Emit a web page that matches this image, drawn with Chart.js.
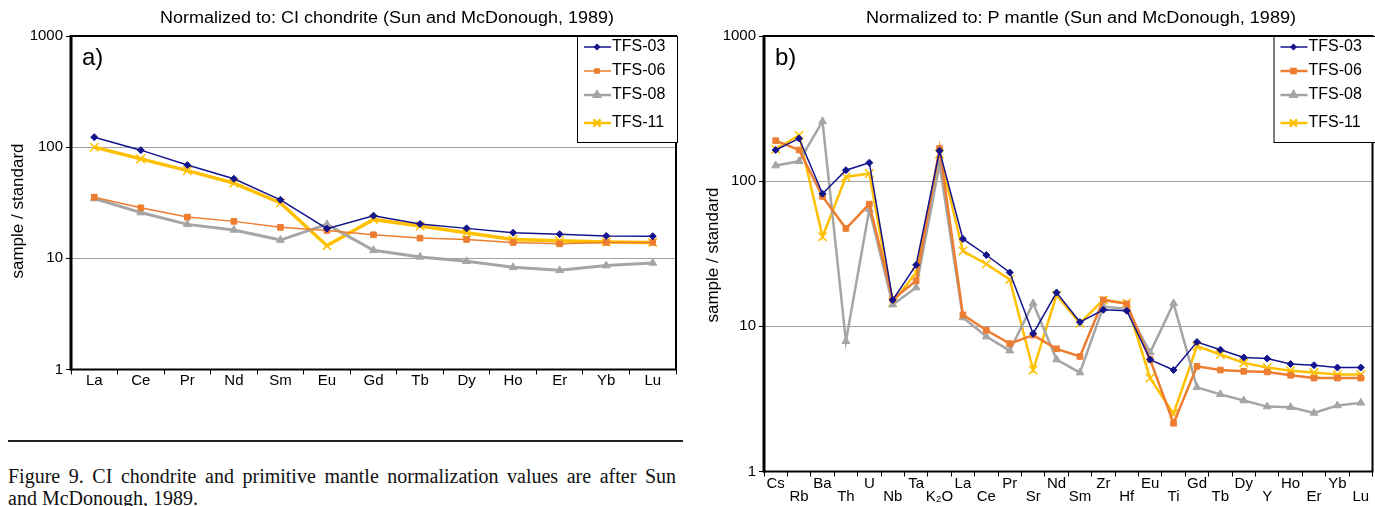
<!DOCTYPE html>
<html><head><meta charset="utf-8">
<script src="https://cdn.jsdelivr.net/npm/chart.js@4.4.1/dist/chart.umd.min.js"></script>
<style>
html,body{margin:0;padding:0;background:#fff;overflow:hidden;width:1375px;height:506px;position:relative;}
#wa{position:absolute;left:0;top:0;width:690px;height:400px;}
#wb{position:absolute;left:690px;top:0;width:690px;height:506px;}
#rule{position:absolute;left:8px;top:440px;width:675px;height:2px;background:#222;}
#cap{position:absolute;left:8px;top:465px;width:668px;font-family:"Liberation Serif","DejaVu Serif",serif;font-size:20px;line-height:22px;color:#111;}
.l1{text-align:justify;text-align-last:justify;white-space:nowrap;}
</style></head><body>
<div id="wa"><canvas id="ca"></canvas></div>
<div id="wb"><canvas id="cb"></canvas></div>
<div id="rule"></div>
<div id="cap"><div class="l1">Figure 9. CI chondrite and primitive mantle normalization values are after Sun</div><div>and McDonough, 1989.</div></div>
<script>
// ---------- data ----------
const seriesNames = ['TFS-03', 'TFS-06', 'TFS-08', 'TFS-11'];
const yTickValues = [1, 10, 100, 1000];

const categoriesA = ['La','Ce','Pr','Nd','Sm','Eu','Gd','Tb','Dy','Ho','Er','Yb','Lu'];
const tfs03A = [123, 94, 69, 52, 33.6, 18.5, 24.2, 20.4, 18.6, 17.0, 16.5, 15.9, 15.8];
const tfs06A = [35.5, 28.5, 23.5, 21.5, 19.0, 17.8, 16.3, 15.2, 14.8, 13.9, 13.5, 13.9, 13.9];
const tfs08A = [34.5, 25.8, 20.2, 18.0, 14.6, 20.2, 11.8, 10.3, 9.4, 8.3, 7.8, 8.6, 9.1];
const tfs11A = [100, 78.5, 61.5, 47.5, 31.5, 13.0, 22.4, 19.5, 17.0, 14.8, 14.4, 14.0, 13.9];

const categoriesB = ['Cs','Rb','Ba','Th','U','Nb','Ta','K\u2082O','La','Ce','Pr','Sr','Nd','Sm','Zr','Hf','Eu','Ti','Gd','Tb','Dy','Y','Ho','Er','Yb','Lu'];
const tfs03B = [164, 197, 82, 119, 134, 15.2, 26.5, 162, 40, 31, 23.5, 8.9, 17.1, 10.7, 13.0, 12.8, 5.9, 5.0, 7.8, 6.9, 6.1, 6.0, 5.5, 5.4, 5.2, 5.2];
const tfs06B = [190, 164, 78.5, 47.2, 69.5, 15.3, 20.6, 168, 12.0, 9.4, 7.6, 8.7, 7.0, 6.2, 15.2, 14.3, 5.9, 2.15, 5.3, 5.0, 4.9, 4.85, 4.6, 4.4, 4.4, 4.4];
const tfs08B = [128, 137, 258, 7.9, 64, 14.1, 18.5, 131, 11.5, 8.5, 6.8, 14.4, 5.9, 4.8, 13.7, 13.2, 6.6, 14.4, 3.8, 3.4, 3.08, 2.8, 2.77, 2.53, 2.85, 2.97];
const tfs11B = [166, 207, 41.4, 107, 113, 14.6, 23.5, 154, 33, 26.9, 21, 5.0, 16.4, 10.5, 15.2, 14.4, 4.4, 2.5, 7.3, 6.4, 5.6, 5.2, 4.95, 4.8, 4.65, 4.65];

// ---------- styles ----------
const COLORS = ['#14148c', '#ED7D31', '#A5A5A5', '#FFC000'];
const STYLES = ['rectRot', 'rect', 'triangle', 'crossRot'];
const FONT = '"Liberation Sans", Arial, sans-serif';
Chart.defaults.color = '#000';
Chart.defaults.font.family = FONT;

function makeDatasets(arrs, widths, radii) {
  return arrs.map((d, i) => ({
    label: seriesNames[i],
    data: d,
    borderColor: COLORS[i],
    backgroundColor: COLORS[i],
    borderWidth: widths[i],
    pointStyle: STYLES[i],
    pointRadius: radii[i],
    pointBorderWidth: i === 3 ? 1.5 : 1,
    pointBorderColor: COLORS[i],
    pointBackgroundColor: COLORS[i],
    tension: 0,
    fill: false
  }));
}

function decor(cfg) {
  return {
    id: 'decor',
    afterDraw(chart) {
      const ctx = chart.ctx, a = chart.chartArea;
      ctx.save();
      // frame
      ctx.strokeStyle = '#000';
      ctx.lineWidth = 2;
      ctx.strokeRect(a.left, a.top, a.right - a.left, a.bottom - a.top);
      ctx.lineWidth = 3;
      ctx.beginPath(); ctx.moveTo(a.left, a.top - 1); ctx.lineTo(a.left, a.bottom + 1); ctx.stroke();
      // title
      ctx.fillStyle = '#000';
      ctx.font = '16px ' + FONT;
      ctx.textBaseline = 'middle'; ctx.textAlign = 'center';
      const w = ctx.measureText(cfg.title).width;
      ctx.save(); ctx.translate(cfg.titleX, 19); ctx.scale(cfg.titleW / w, 1); ctx.fillText(cfg.title, 0, 0); ctx.restore();
      // panel letter
      ctx.font = '24px ' + FONT; ctx.textAlign = 'left';
      ctx.fillText(cfg.panel, a.left + 11, a.top + 22);
      // y title
      ctx.save(); ctx.translate(cfg.yTitleX, cfg.yTitleY); ctx.rotate(-Math.PI / 2);
      ctx.font = '17px ' + FONT; ctx.textAlign = 'center'; ctx.fillText('sample / standard', 0, 0); ctx.restore();
      // legend
      const lx = a.right - 99, ly = a.top;
      ctx.fillStyle = '#fff'; ctx.fillRect(lx, ly, cfg.legendW, 106);
      ctx.lineWidth = 1; ctx.strokeStyle = '#000';
      ctx.strokeRect(lx + 0.5, ly + 0.5, cfg.legendW, 106);
      const ys = [11, 35, 59, 87];
      chart.data.datasets.forEach((ds, i) => {
        const y = ly + ys[i];
        ctx.strokeStyle = ds.borderColor; ctx.fillStyle = ds.backgroundColor;
        ctx.lineWidth = Math.min(ds.borderWidth, 2.5);
        ctx.beginPath(); ctx.moveTo(lx + 7, y); ctx.lineTo(lx + 34, y); ctx.stroke();
        Chart.helpers.drawPoint(ctx, {pointStyle: ds.pointStyle, radius: Math.max(ds.pointRadius - 1, 2.5), borderWidth: 1, rotation: 0}, lx + 20, y);
        ctx.fillStyle = '#000'; ctx.font = '16px ' + FONT; ctx.textAlign = 'left'; ctx.textBaseline = 'middle';
        ctx.fillText(ds.label, lx + 35, y);
      });
      ctx.restore();
    }
  };
}

function yScale(width) {
  return {
    type: 'logarithmic', min: 1, max: 1000,
    afterBuildTicks: s => { s.ticks = yTickValues.map(v => ({value: v})); },
    afterFit: s => { s.width = width; },
    ticks: { font: {size: 15}, padding: 3, callback: v => String(v) },
    grid: { color: '#a0a0a0', lineWidth: 1, tickLength: 5, tickColor: '#000', drawTicks: true },
    border: { display: false }
  };
}

// ---------- chart a ----------
new Chart(document.getElementById('ca'), {
  type: 'line',
  data: { labels: categoriesA, datasets: makeDatasets([tfs03A, tfs06A, tfs08A, tfs11A], [1.5, 1.5, 3, 3.5], [3.5, 4, 4.5, 6]) },
  options: {
    responsive: true, maintainAspectRatio: false, animation: false,
    layout: { padding: { left: 0, right: 14, top: 36, bottom: 0 } },
    plugins: { legend: {display: false}, title: {display: false}, tooltip: {enabled: false} },
    scales: {
      x: {
        type: 'category', offset: true,
        afterFit: s => { s.height = 30.5; },
        ticks: { font: {size: 15}, padding: -3, autoSkip: false, maxRotation: 0 },
        grid: { offset: true, drawOnChartArea: false, tickLength: 5, tickColor: '#000' },
        border: { display: false }
      },
      y: yScale(71)
    }
  },
  plugins: [decor({title: 'Normalized to: CI chondrite (Sun and McDonough, 1989)', titleX: 387, titleW: 454, panel: 'a)', yTitleX: 18, yTitleY: 211, legendW: 100})]
});

// ---------- chart b ----------
const labelsB = categoriesB.map((c, i) => i % 2 === 0 ? [c, ''] : ['', c]);
new Chart(document.getElementById('cb'), {
  type: 'line',
  data: { labels: labelsB, datasets: makeDatasets([tfs03B, tfs06B, tfs08B, tfs11B], [1.5, 2.5, 2.5, 2.5], [3.5, 4, 4.5, 6]) },
  options: {
    responsive: true, maintainAspectRatio: false, animation: false,
    layout: { padding: { left: 0, right: 5, top: 36, bottom: 0 } },
    plugins: { legend: {display: false}, title: {display: false}, tooltip: {enabled: false} },
    scales: {
      x: {
        type: 'category', offset: true,
        afterFit: s => { s.height = 34.5; },
        ticks: { font: {size: 15, lineHeight: '13px'}, padding: 1, autoSkip: false, maxRotation: 0 },
        grid: { offset: true, drawOnChartArea: false, tickLength: 5, tickColor: '#000' },
        border: { display: false }
      },
      y: yScale(74)
    }
  },
  plugins: [decor({title: 'Normalized to: P mantle (Sun and McDonough, 1989)', titleX: 391, titleW: 430, panel: 'b)', yTitleX: 23, yTitleY: 255, legendW: 120})]
});
</script>
</body></html>
